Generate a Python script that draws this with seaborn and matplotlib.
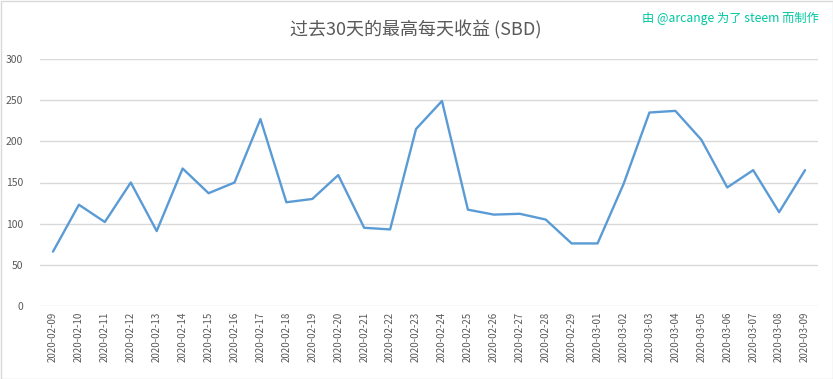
import matplotlib
matplotlib.use("Agg")
import matplotlib.pyplot as plt
import seaborn as sns
import pandas as pd
from matplotlib.patches import Rectangle

dates = ["2020-02-09", "2020-02-10", "2020-02-11", "2020-02-12", "2020-02-13",
         "2020-02-14", "2020-02-15", "2020-02-16", "2020-02-17", "2020-02-18",
         "2020-02-19", "2020-02-20", "2020-02-21", "2020-02-22", "2020-02-23",
         "2020-02-24", "2020-02-25", "2020-02-26", "2020-02-27", "2020-02-28",
         "2020-02-29", "2020-03-01", "2020-03-02", "2020-03-03", "2020-03-04",
         "2020-03-05", "2020-03-06", "2020-03-07", "2020-03-08", "2020-03-09"]
values = [66, 123, 102, 150, 91, 167, 137, 150, 227, 126,
          130, 159, 95, 93, 215, 249, 117, 111, 112, 105,
          76, 76, 148, 235, 237, 202, 144, 165, 114, 165]
yticks = [0, 50, 100, 150, 200, 250, 300]
title = "过去30天的最高每天收益 (SBD)"
credit = "由 @arcange 为了 steem 而制作"

sns.set_theme(style="white")
plt.rcParams['font.family'] = ['Noto Sans CJK SC', 'DejaVu Sans']

df = pd.DataFrame({"idx": range(len(dates)), "date": dates, "value": values})

fig = plt.figure(figsize=(8.33, 3.79), dpi=100)
ax = fig.add_axes([40/833, 1 - 306/379, 778/833, 247/379])

sns.lineplot(data=df, x="idx", y="value", ax=ax, color="#5B9BD5", linewidth=1.7)

ax.set_xlim(-0.5, len(dates) - 0.5)
ax.set_ylim(0, 300)
ax.set_yticks(yticks)
ax.set_yticklabels([str(v) for v in yticks], color="#595959", fontsize=7.5)
ax.set_xticks(range(len(dates)))
ax.set_xticklabels(dates, rotation=90, color="#595959", fontsize=7)
ax.tick_params(axis="both", length=0, pad=4)
ax.tick_params(axis="y", pad=12)
ax.grid(axis="y", color="#D9D9D9", linewidth=1)
ax.set_axisbelow(True)
for s in ax.spines.values():
    s.set_visible(False)
ax.set_xlabel("")
ax.set_ylabel("")

fig.text(0.499, 1 - 30/379, title, ha="center", va="center", fontsize=13, color="#595959")
fig.text(819/833, 1 - 18/379, credit, ha="right", va="center", fontsize=8.8, color="#00C8A0")

fig.patches.append(Rectangle((0.5/833, 0.5/379), 1 - 1/833, 1 - 1/379, transform=fig.transFigure,
                             fill=False, edgecolor="#D9D9D9", linewidth=1))

fig.savefig("out.png", dpi=100)
